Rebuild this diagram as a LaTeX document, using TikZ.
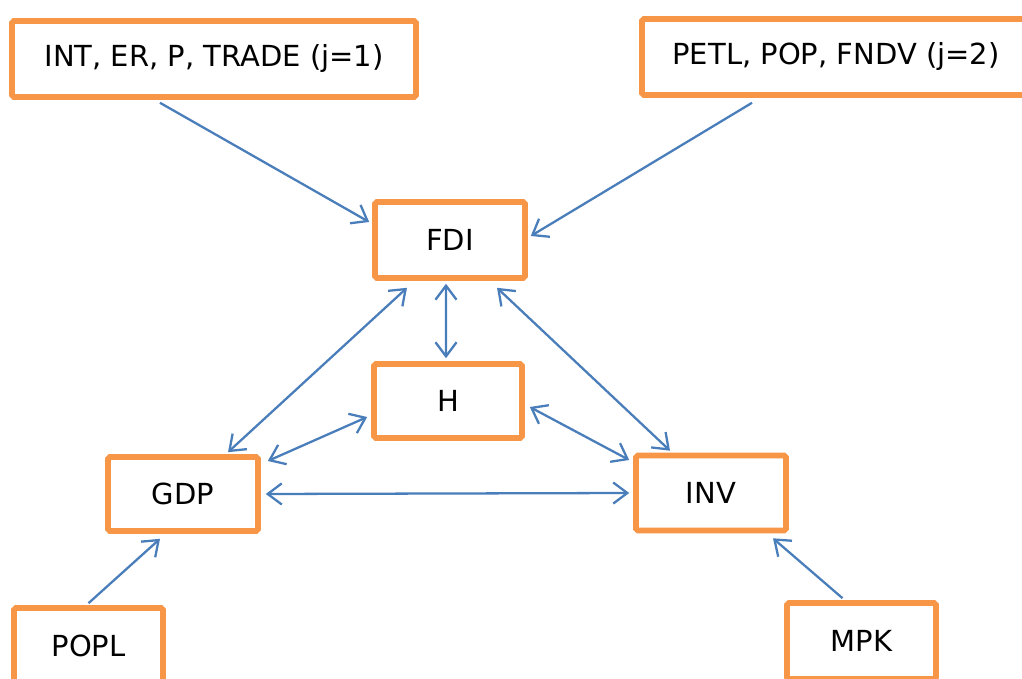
\documentclass[tikz,border=0pt]{standalone}
\usepackage{fontspec}
\setmainfont{DejaVu Sans}
\usetikzlibrary{arrows.meta}

\definecolor{boxorange}{RGB}{247,150,70}
\definecolor{arrowblue}{RGB}{74,126,187}

\begin{document}
\begin{tikzpicture}[
        var/.style={draw=boxorange, line width=3.2pt, rounded corners=1pt, fill=white,
                    font=\fontsize{16.5}{19}\selectfont, inner sep=0pt},
        link/.style={draw=arrowblue, line width=1.3pt, -{Straight Barb[length=8pt,width=12pt]}},
        both/.style={link, {Straight Barb[length=8pt,width=12pt]}-{Straight Barb[length=8pt,width=12pt]}}
    ]
        \clip (0,0) rectangle (20.44,-13.58);
        \node[var, minimum width=8.08cm, minimum height=1.52cm](exo1) at (4.28,-1.18)  {INT, ER, P, TRADE (j=1)};   % j=1
        \node[var, minimum width=7.76cm, minimum height=1.52cm](exo2) at (16.72,-1.14) {PETL, POP, FNDV (j=2)};     % j=2
        \node[var, minimum width=3.00cm, minimum height=1.52cm](fdi)  at (9.00,-4.80)  {FDI};
        \node[var, minimum width=2.96cm, minimum height=1.48cm](h)    at (8.96,-8.02)  {H};
        \node[var, minimum width=3.00cm, minimum height=1.48cm](gdp)  at (3.66,-9.88)  {GDP};
        \node[var, minimum width=3.00cm, minimum height=1.50cm](inv)  at (14.22,-9.86) {INV};
        \node[var, minimum width=2.98cm, minimum height=1.52cm](popl) at (1.77,-12.92) {POPL};
        \node[var, minimum width=2.98cm, minimum height=1.52cm](mpk)  at (17.23,-12.82) {MPK};

        % exogenous blocks
        \draw[link] ([xshift=-1.08cm,yshift=-0.06cm]exo1.south) -- ([xshift=-0.06cm,yshift=0.36cm]fdi.west);
        \draw[link] ([xshift=-1.68cm,yshift=-0.10cm]exo2.south) -- ([xshift=0.06cm,yshift=0.08cm]fdi.east);
        \draw[link] ([yshift=0.04cm]popl.north) -- ([xshift=-0.46cm,yshift=-0.10cm]gdp.south);
        \draw[link] ([xshift=-0.38cm,yshift=0.04cm]mpk.north) -- ([xshift=1.24cm,yshift=-0.10cm]inv.south);

        % two way links
        \draw[both] ([xshift=-0.08cm,yshift=-0.06cm]fdi.south) -- ([xshift=-0.04cm,yshift=0.06cm]h.north);
        \draw[both] ([xshift=-0.86cm,yshift=-0.14cm]fdi.south) -- ([xshift=0.90cm,yshift=0.04cm]gdp.north);
        \draw[both] ([xshift=0.94cm,yshift=-0.14cm]fdi.south) -- ([xshift=-0.82cm,yshift=0.04cm]inv.north);
        \draw[both] ([xshift=-0.08cm,yshift=-0.32cm]h.west) -- ([xshift=0.14cm,yshift=0.66cm]gdp.east);
        \draw[both] ([xshift=0.10cm,yshift=-0.12cm]h.east) -- ([xshift=-0.08cm,yshift=0.66cm]inv.west);
        \draw[both] ([xshift=0.10cm]gdp.east) -- ([xshift=-0.08cm]inv.west);

    \end{tikzpicture}
\end{document}
